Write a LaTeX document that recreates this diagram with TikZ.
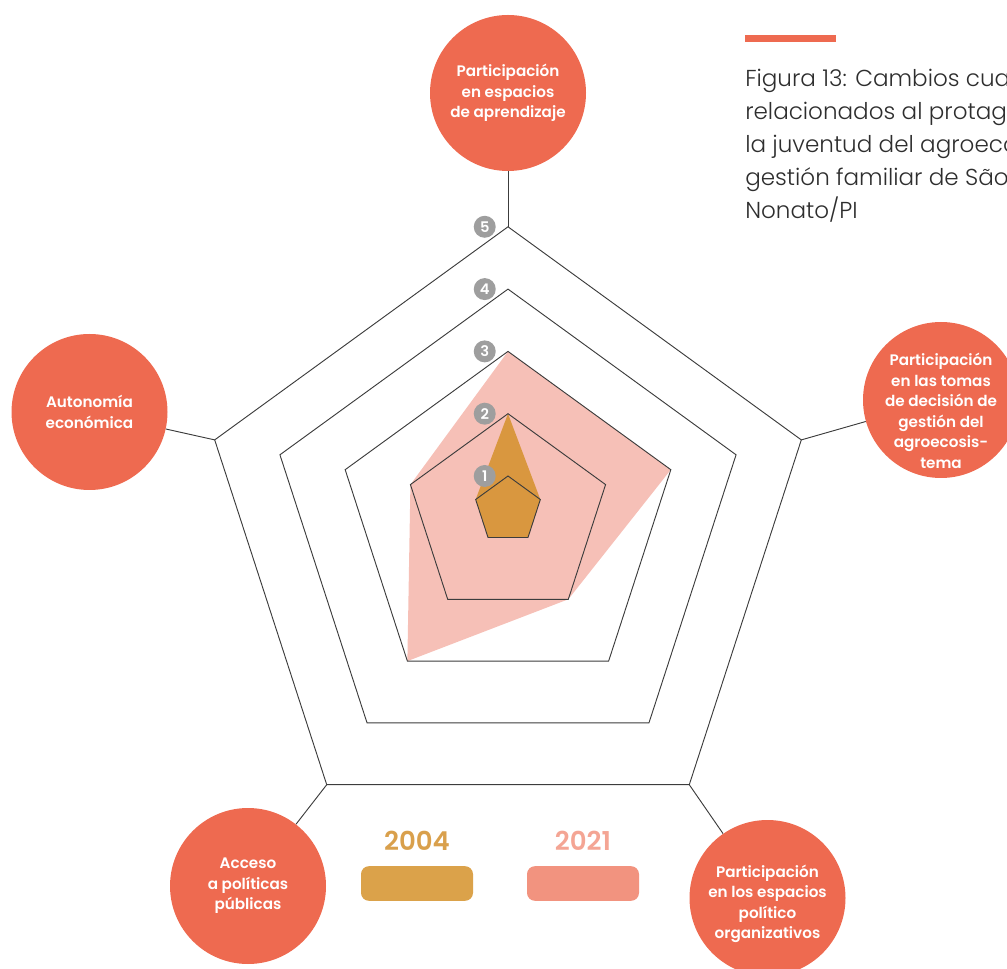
\documentclass[tikz,border=0pt]{standalone}
\usepackage{fontspec}
\setmainfont{Poppins}
\newfontfamily\labelfont{Poppins SemiBold}
\newfontfamily\captionfont{Poppins Light}
\usepackage{tikz}
\usetikzlibrary{positioning, calc}

\definecolor{circlered}{HTML}{EE6A50}
\definecolor{webline}{HTML}{3C3C3C}
\definecolor{badgegray}{HTML}{9E9E9E}
\definecolor{fill2004}{HTML}{D9973F}
\definecolor{fill2021}{HTML}{F6C0B7}
\definecolor{bar2004}{HTML}{DBA24A}
\definecolor{bar2021}{HTML}{F2937F}
\definecolor{text2004}{HTML}{D9A04C}
\definecolor{text2021}{HTML}{F4A594}
\definecolor{captiontext}{HTML}{2E2E2E}

\tikzset{
    topic/.style={circle, fill=circlered, text=white, minimum size=117pt, inner sep=0pt,
        align=center, font=\labelfont\fontsize{11.4}{15.4}\selectfont},
    topictext/.style={text=white, inner sep=0pt, align=center,
        font=\labelfont\fontsize{11.4}{15.4}\selectfont},
    badge/.style={circle, fill=badgegray, text=white, minimum size=16.5pt, inner sep=0pt,
        font=\labelfont\fontsize{11}{11}\selectfont},
    web/.style={draw=webline, line width=0.7pt},
    legendbar/.style={rounded corners=6pt, minimum width=84pt, minimum height=26pt, inner sep=0pt}
}

\def\radarpoints{%
    \def\cx{508}

    % vertices of the five levels
    \foreach \k in {1,...,5}
    {
        \pgfmathsetmacro{\cy}{510+6.3*(\k-1)}
        \pgfmathsetmacro{\rr}{34+68.6*(\k-1)}
        \foreach \i in {0,...,4}
        {
            \coordinate (L\k-\i) at ({\cx+\rr*cos(-90+72*\i)}, {\cy+\rr*sin(-90+72*\i)});
        }
    }
}

\begin{document}
\begin{tikzpicture}[x=0.75pt, y=-0.75pt]
    \useasboundingbox (0,0) rectangle (1007,969);
    \radarpoints

    % 2021
    \fill[fill2021] (L3-0) -- (L3-1) -- (L2-2) -- (L3-3) -- (L2-4) -- cycle;

    % 2004
    \fill[fill2004] (L2-0) -- (L1-1) -- (L1-2) -- (L1-3) -- (L1-4) -- cycle;

    % levels
    \foreach \k in {1,...,5}
    {
        \draw[web, line join=miter] (L\k-0) -- (L\k-1) -- (L\k-2) -- (L\k-3) -- (L\k-4) -- cycle;
    }

    % level numbers
    \foreach \k in {1,...,5}
    {
        \node[badge, left=9pt of L\k-0] (n\k) {\k};
    }

    % topics
    \node[topic] (aprendizaje) at (508,93)
        {Participación\\en espacios\\de aprendizaje};
    \node[topic, label={[topictext, yshift=-8pt]center:{Participación\\en las tomas\\de decisión de\\gestión del\\agroecosis-\\tema}}]
        (decision) at (941,400) {};
    \node[topic, label={[topictext, yshift=-4.5pt]center:{Participación\\en los espacios\\político\\organizativos}}]
        (organizativos) at (767.5,898) {};
    \node[topic] (politicas) at (248,886)
        {Acceso\\a políticas\\públicas};
    \node[topic] (autonomia) at (89.5,412)
        {Autonomía\\económica};

    % spokes
    \foreach \i/\topic in {
        0/aprendizaje,
        1/decision,
        2/organizativos,
        3/politicas,
        4/autonomia}
    {
        \draw[web] (L5-\i) -- (\topic);
    }

    % legend
    \foreach \year/\x in {2004/417, 2021/583}
    {
        \node[text=text\year, font=\labelfont\fontsize{19.5}{19.5}\selectfont] (y\year) at (\x,841) {\year};
        \node[legendbar, fill=bar\year] (bar\year) at (\x,883.5) {};
    }

    % caption
    \fill[circlered] (745,35) rectangle (836,42);
    \foreach \line [count=\n] in {
        Figura 13: Cambios cualitativos,
        relacionados al protagonismo de,
        la juventud del agroecosistema de,
        gestión familiar de São Raimundo,
        Nonato/PI}
    {
        \node[anchor=base west, inner sep=0pt, text=captiontext,
            font=\captionfont\fontsize{17.3}{24}\selectfont] (caption\n) at (745,{87+32.8*(\n-1)}) {\line};
    }
\end{tikzpicture}
\end{document}
